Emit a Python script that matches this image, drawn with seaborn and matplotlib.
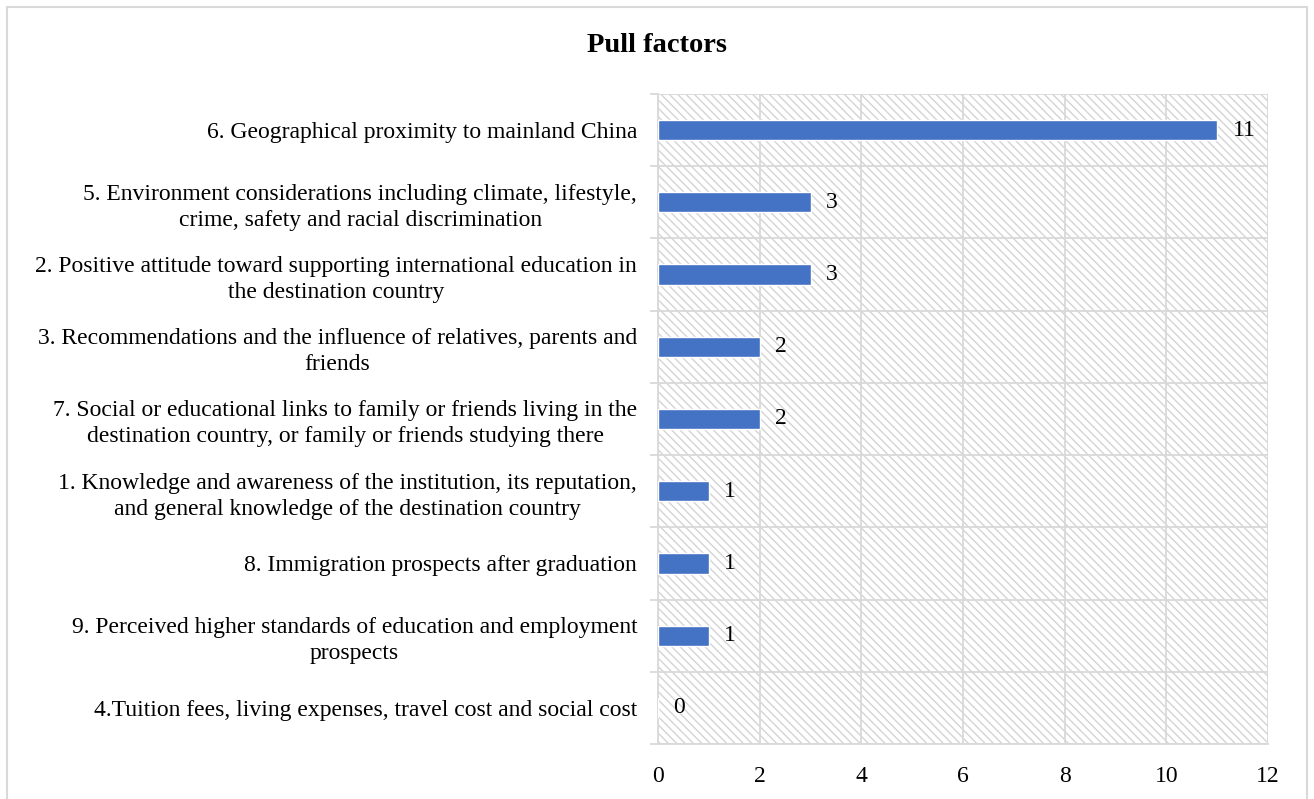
import matplotlib
matplotlib.use("Agg")
import matplotlib.pyplot as plt
import seaborn as sns
import pandas as pd
from matplotlib.patches import Rectangle

factors = [
    "6. Geographical proximity to mainland China",
    "5. Environment considerations including climate, lifestyle,\ncrime, safety and racial discrimination",
    "2. Positive attitude toward supporting international education in\nthe destination country",
    "3. Recommendations and the influence of relatives, parents and\nfriends",
    "7. Social or educational links to family or friends living in the\ndestination country, or family or friends studying there",
    "1. Knowledge and awareness of the institution, its reputation,\nand general knowledge of the destination country",
    "8. Immigration prospects after graduation",
    "9. Perceived higher standards of education and employment\nprospects",
    "4.Tuition fees, living expenses, travel cost and social cost",
]
counts = [11, 3, 3, 2, 2, 1, 1, 1, 0]
x_ticks = [0, 2, 4, 6, 8, 10, 12]

df = pd.DataFrame({"factor": factors, "count": counts})

sns.set_theme(style="white")
plt.rcParams["font.family"] = ["Liberation Serif", "DejaVu Serif"]
plt.rcParams["hatch.color"] = "#d4d4d4"
plt.rcParams["hatch.linewidth"] = 1.0

FS = 17
W, H = 1314, 799
fig = plt.figure(figsize=(W / 100, H / 100), dpi=100)
ax = fig.add_axes([658 / W, 1 - 744 / H, (1268 - 658) / W, (744 - 94) / H])

# hatched plot-area background
ax.add_patch(Rectangle((0, 0), 1, 1, transform=ax.transAxes, facecolor="white",
                       edgecolor="#d4d4d4", hatch="\\\\\\\\", linewidth=0, zorder=0))

sns.barplot(data=df, x="count", y="factor", orient="h", color="#4472C4",
            saturation=1, width=0.28, ax=ax, zorder=3)

ax.set_xlim(0, 12)
ax.set_ylim(len(factors) - 0.5, -0.5)
ax.set_xticks(x_ticks)
ax.set_xticklabels([str(t) for t in x_ticks], fontsize=FS, color="#000000")
ax.tick_params(axis="x", length=0, pad=15.5)

# category boundaries as horizontal gridlines
ax.set_yticks([i - 0.5 for i in range(len(factors) + 1)], minor=True)
ax.tick_params(axis="y", which="minor", length=6, width=1.3, color="#d9d9d9", left=True)
ax.tick_params(axis="y", which="major", length=0, pad=15)
ax.set_yticks(range(len(factors)))
ax.set_yticklabels(factors, fontsize=FS, ha="right", multialignment="center",
                   color="#000000", linespacing=1.3)
ax.grid(True, axis="y", which="minor", color="#d9d9d9", linewidth=1.3, zorder=1)
ax.grid(True, axis="x", which="major", color="#d9d9d9", linewidth=1.3, zorder=1)
ax.set_axisbelow(True)
for s in ["top", "right"]:
    ax.spines[s].set_visible(False)
for s in ["left", "bottom"]:
    ax.spines[s].set_color("#d9d9d9")
    ax.spines[s].set_linewidth(1.3)
ax.set_xlabel("")
ax.set_ylabel("")

for i, v in enumerate(counts):
    ax.annotate(str(v), xy=(v, i), xytext=(11, 0), textcoords="offset points",
                va="center", ha="left", fontsize=FS, color="#000000")

fig.text(657 / W, 1 - 46 / H, "Pull factors", ha="center", va="center",
         fontsize=20.5, fontweight="bold", color="#000000")

# chart frame
fig.add_artist(Rectangle((7 / W, -0.05), (1307 - 7) / W, 1.05 - 7 / H,
                         transform=fig.transFigure, fill=False,
                         edgecolor="#d9d9d9", linewidth=1.5))

fig.savefig("out.png", dpi=100, facecolor="white")
